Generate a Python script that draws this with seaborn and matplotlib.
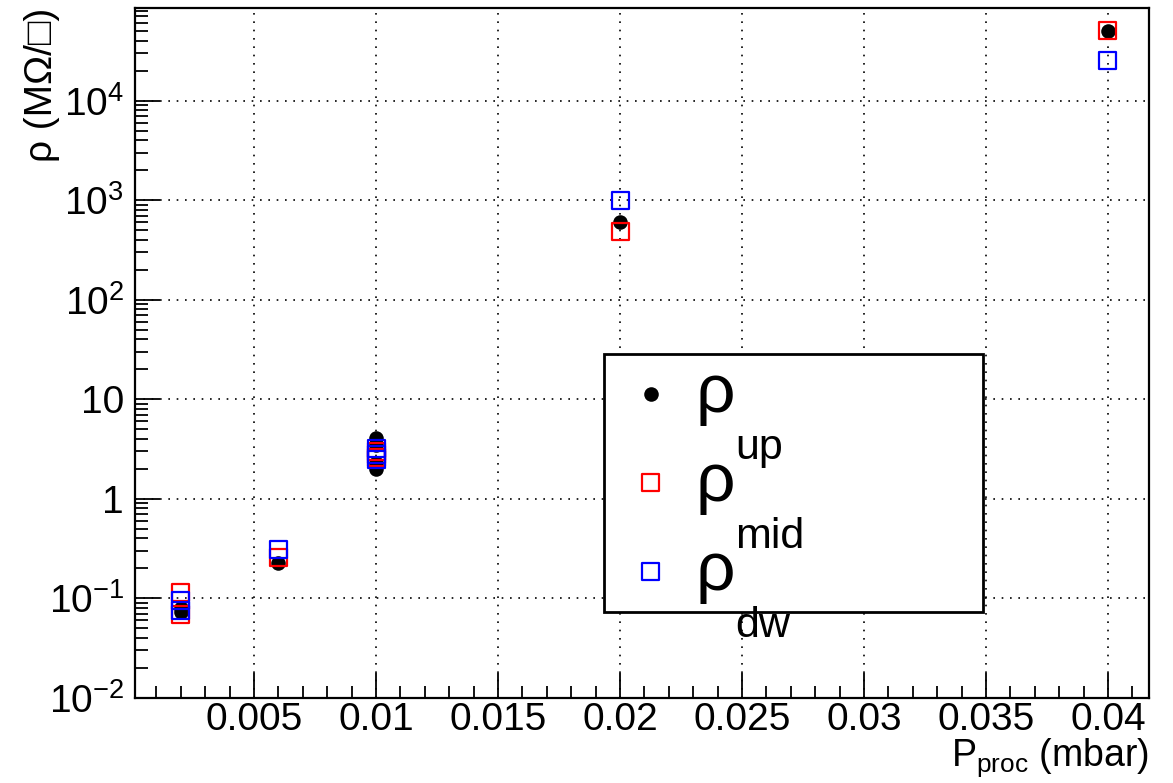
import numpy as np
import pandas as pd
import seaborn as sns
import matplotlib.pyplot as plt
from matplotlib.patches import Rectangle

# process pressure (mbar) and sheet resistivity (MOhm/sq) per position
p_up = [0.002, 0.002, 0.006, 0.01, 0.01, 0.01, 0.01, 0.02, 0.04]
rho_up = [0.080, 0.073, 0.225, 4.1, 3.5, 2.3, 2.0, 600, 50000]

p_mid = [0.002, 0.002, 0.006, 0.01, 0.01, 0.02, 0.04]
rho_mid = [0.115, 0.069, 0.26, 3.0, 2.6, 480, 50000]

p_dw = [0.002, 0.002, 0.006, 0.01, 0.01, 0.01, 0.02, 0.04]
rho_dw = [0.095, 0.076, 0.31, 3.2, 2.8, 2.5, 1000, 25000]

x_ticks = [0.005, 0.01, 0.015, 0.02, 0.025, 0.03, 0.035, 0.04]
x_ticklabels = ["0.005", "0.01", "0.015", "0.02", "0.025", "0.03", "0.035", "0.04"]
y_ticks = [1e-2, 1e-1, 1, 10, 1e2, 1e3, 1e4]
y_ticklabels = [r"$\mathregular{10^{-2}}$", r"$\mathregular{10^{-1}}$", "1", "10",
                r"$\mathregular{10^{2}}$", r"$\mathregular{10^{3}}$", r"$\mathregular{10^{4}}$"]
subscripts = ["up", "mid", "dw"]

df = pd.concat([
    pd.DataFrame({"P": p_up, "rho": rho_up, "pos": "up"}),
    pd.DataFrame({"P": p_mid, "rho": rho_mid, "pos": "mid"}),
    pd.DataFrame({"P": p_dw, "rho": rho_dw, "pos": "dw"}),
])

sns.set_theme(style="ticks")
plt.rcParams["font.family"] = ["Liberation Sans", "DejaVu Sans"]
plt.rcParams["mathtext.fontset"] = "custom"
plt.rcParams["mathtext.rm"] = "Liberation Sans"
plt.rcParams["mathtext.it"] = "Liberation Sans:italic"
plt.rcParams["axes.unicode_minus"] = False
for k in ["text.color", "axes.labelcolor", "xtick.color", "ytick.color", "axes.edgecolor"]:
    plt.rcParams[k] = "black"

fig = plt.figure(figsize=(11.73, 7.83), dpi=100)
ax = fig.add_axes([0.1151, 0.1086, 0.8644, 0.8812])

styles = {
    "up": dict(marker="o", color="black", s=110, edgecolor="black", linewidth=0),
    "mid": dict(marker="s", color="red", s=150, edgecolor="red", linewidth=1.6),
    "dw": dict(marker="s", color="blue", s=150, edgecolor="blue", linewidth=1.6),
}
for pos in subscripts:
    sub = df[df["pos"] == pos]
    sns.scatterplot(data=sub, x="P", y="rho", ax=ax, label="ρ",
                    zorder=3, **styles[pos])
    if pos != "up":
        ax.collections[-1].set_facecolor("none")

ax.set_yscale("log")
ax.set_xlim(0.00012, 0.04168)
ax.set_ylim(1e-2, 8.5e4)

ax.set_xticks(x_ticks)
ax.set_xticklabels(x_ticklabels)
ax.set_xticks(np.arange(0.001, 0.0415, 0.001), minor=True)
ax.set_yticks(y_ticks)
ax.set_yticklabels(y_ticklabels)

ax.tick_params(axis="both", which="major", direction="in", length=18, width=1.3,
               labelsize=28, top=False, right=False)
ax.tick_params(axis="both", which="minor", direction="in", length=9, width=1.3,
               top=False, right=False)
ax.tick_params(axis="y", which="major", pad=8)
ax.tick_params(axis="x", which="major", pad=3)

ax.grid(True, which="major", color="black", linestyle=(0, (1, 4)), linewidth=1.2)
for sp in ax.spines.values():
    sp.set_linewidth(1.6)

ax.set_xlabel(r"$\mathregular{P_{proc}}$ (mbar)", fontsize=27, loc="right")
ax.xaxis.set_label_coords(1.0, -0.055)
ax.xaxis.label.set_va("top")
ax.set_ylabel("ρ (MΩ/□)", fontsize=28, loc="top")
ax.yaxis.set_label_coords(-0.074, 1.0)

# legend box
ax.add_patch(Rectangle((0.4625, 0.1246), 0.3735, 0.374, transform=ax.transAxes,
                       facecolor="white", edgecolor="black", linewidth=2, zorder=4))
leg = ax.legend(loc="upper left", bbox_to_anchor=(0.495, 0.487), frameon=False,
                fontsize=50, handlelength=0.4, handletextpad=0.45,
                labelspacing=0.36, borderpad=0, borderaxespad=0)
leg.set_zorder(5)
for txt, s in zip(leg.get_texts(), subscripts):
    ax.annotate(s, xy=(1.0, 0.0), xycoords=txt, xytext=(0, -24),
                textcoords="offset points", fontsize=31, ha="left", va="baseline",
                zorder=6)

fig.savefig("out.png", dpi=100)
